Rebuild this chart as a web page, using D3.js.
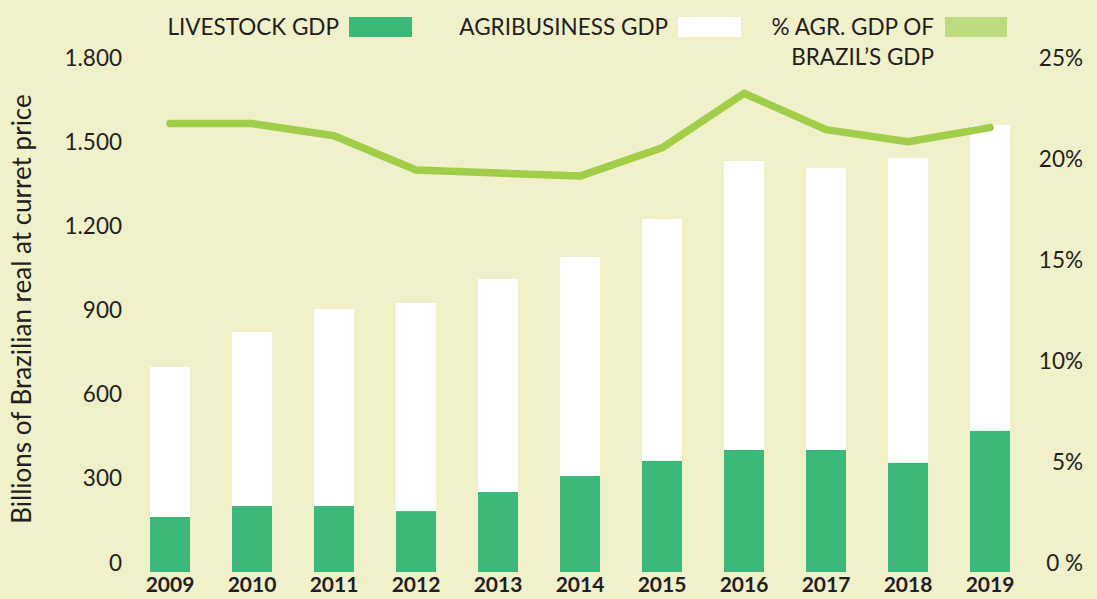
<!DOCTYPE html>
<meta charset="utf-8">
<html>
<head>
<script src="https://d3js.org/d3.v7.min.js"></script>
<style>
  body { margin: 0; background: #f0f0c9; }
  text { font-family: Lato, "Open Sans", sans-serif; fill: #231f20; }
</style>
</head>
<body>
<svg id="chart" width="1097" height="599"></svg>
<script>
// data
var years = ["2009","2010","2011","2012","2013","2014","2015","2016","2017","2018","2019"];
var agribusinessGdp = [731, 855, 937, 959, 1044, 1123, 1258, 1465, 1440, 1476, 1593];
var livestockGdp = [196, 235, 235, 217, 285, 342, 396, 435, 435, 389, 503];
var agrShare = [22.2, 22.2, 21.6, 19.9, 19.75, 19.6, 21.0, 23.7, 21.9, 21.3, 22.0];
var leftTicks = [0, 300, 600, 900, 1200, 1500, 1800];
var rightTicks = [0, 5, 10, 15, 20, 25];

var svg = d3.select("#chart"),
    width = +svg.attr("width"),
    height = +svg.attr("height");

svg.append("rect").attr("width", width).attr("height", height).attr("fill", "#f0f0c9");

var x = d3.scaleBand()
    .domain(years)
    .range([129.5, 1030.5])
    .paddingInner(0.512)
    .paddingOuter(0.25);

var y = d3.scaleLinear().domain([0, 1800]).range([572, 67]);
var y2 = d3.scaleLinear().domain([0, 25]).range([572, 67]);

var fmt = function(d){ return d3.format(",")(d).replace(",", "."); };

// left axis labels
var leftAxis = d3.axisLeft(y).tickValues(leftTicks).tickSize(0).tickFormat(fmt);
var gl = svg.append("g").attr("transform", "translate(122,0)").call(leftAxis);
gl.select(".domain").remove();
gl.selectAll("text").attr("x", 0).attr("y", -2).attr("dy", "0em")
    .style("font-size", "22.5px").style("font-family", "Lato, sans-serif").attr("fill", "#231f20");

// right axis labels
var rightAxis = d3.axisRight(y2).tickValues(rightTicks).tickSize(0)
    .tickFormat(function(d){ return d == 0 ? "0 %" : d + "%"; });
var gr = svg.append("g").attr("transform", "translate(1083,0)").call(rightAxis);
gr.select(".domain").remove();
gr.selectAll("text").attr("x", 0).attr("y", -2).attr("dy", "0em").attr("text-anchor", "end")
    .style("font-size", "22.5px").style("font-family", "Lato, sans-serif").attr("fill", "#231f20");

// bars: agribusiness total in white, livestock on top in green
svg.append("g").selectAll("rect")
    .data(years)
    .enter().append("rect")
    .attr("x", function(d){ return x(d); })
    .attr("width", x.bandwidth())
    .attr("y", function(d,i){ return y(agribusinessGdp[i]); })
    .attr("height", function(d,i){ return y(0) - y(agribusinessGdp[i]); })
    .attr("fill", "#ffffff");

svg.append("g").selectAll("rect")
    .data(years)
    .enter().append("rect")
    .attr("x", function(d){ return x(d); })
    .attr("width", x.bandwidth())
    .attr("y", function(d,i){ return y(livestockGdp[i]); })
    .attr("height", function(d,i){ return y(0) - y(livestockGdp[i]); })
    .attr("fill", "#3bb97a");

// year labels (moved up a little so they are not clipped)
var xAxis = d3.axisBottom(x).tickSize(0);
var gx = svg.append("g").attr("transform", "translate(0,572)").call(xAxis);
gx.select(".domain").remove();
gx.selectAll("text").attr("y", 20).attr("dy", "0em")
    .style("font-size", "21px").style("font-weight", "bold")
    .style("font-family", "Lato, sans-serif").attr("fill", "#231f20");

// share line
var line = d3.line()
    .x(function(d,i){ return x(years[i]) + x.bandwidth()/2; })
    .y(function(d){ return y2(d); });

svg.append("path")
    .datum(agrShare)
    .attr("d", line)
    .attr("fill", "none")
    .attr("stroke", "#a2cd4a")
    .attr("stroke-width", 7.5)
    .attr("stroke-linecap", "round")
    .attr("stroke-linejoin", "round");

// y title
svg.append("text")
    .attr("transform", "translate(31,309) rotate(-90)")
    .attr("text-anchor", "middle")
    .style("font-size", "26px")
    .text("Billions of Brazilian real at curret price");

// legend
var legend = svg.append("g").style("font-size", "22.5px");
legend.append("text").attr("x", 339).attr("y", 35).attr("text-anchor", "end").text("LIVESTOCK GDP");
legend.append("rect").attr("x", 349).attr("y", 17).attr("width", 63).attr("height", 20).attr("fill", "#3bb97a");
legend.append("text").attr("x", 668).attr("y", 35).attr("text-anchor", "end").text("AGRIBUSINESS GDP");
legend.append("rect").attr("x", 678).attr("y", 17).attr("width", 63).attr("height", 20).attr("fill", "#ffffff");
legend.append("text").attr("x", 934).attr("y", 35).attr("text-anchor", "end").text("% AGR. GDP OF");
legend.append("text").attr("x", 934).attr("y", 65).attr("text-anchor", "end").text("BRAZIL\u2019S GDP");
legend.append("rect").attr("x", 945).attr("y", 17).attr("width", 62).attr("height", 20).attr("fill", "#bfdb80");
</script>
</body>
</html>
